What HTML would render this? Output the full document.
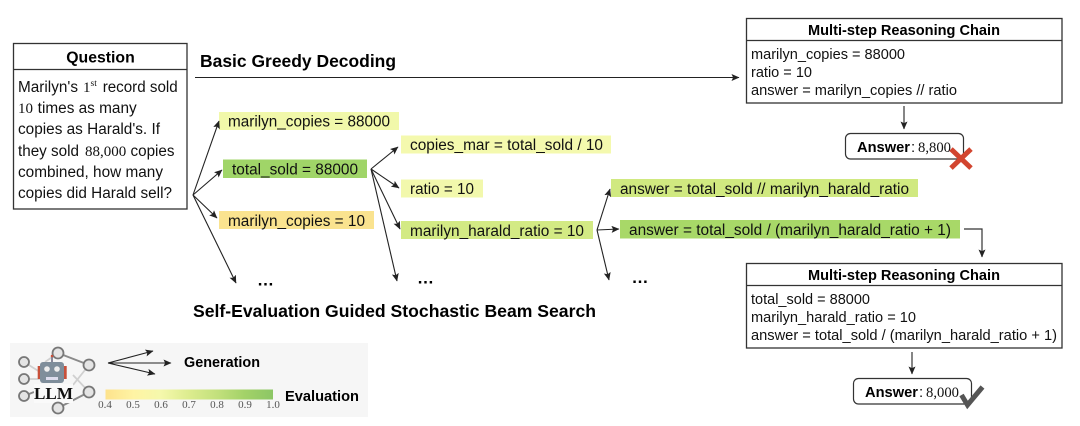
<!DOCTYPE html>
<html><head><meta charset="utf-8"><style>
html,body{margin:0;padding:0;background:#fff}
svg{display:block;filter:blur(.3px)}
text{font-family:"Liberation Sans",sans-serif;fill:#111}
.s{font-family:"Liberation Serif",serif}
.b{font-weight:bold;fill:#000}
.n{font-size:15.3px}
.c{font-size:14.5px}
.l{stroke:#222;stroke-width:1.1;fill:none;marker-end:url(#a)}
.box{fill:#fff;stroke:#333;stroke-width:1.3}
.t{font-family:"Liberation Serif",serif;font-size:11px;fill:#555;text-anchor:middle}
.nd{fill:#e4e4e4;stroke:#777;stroke-width:1.8}
</style></head><body>
<svg width="1080" height="426" viewBox="0 0 1080 426" xmlns="http://www.w3.org/2000/svg">
<defs><marker id="a" markerUnits="userSpaceOnUse" markerWidth="9" markerHeight="8" refX="7.5" refY="3.5" orient="auto"><path d="M0 0L8 3.5L0 7L1.6 3.5Z" fill="#222"/></marker></defs>
<rect width="1080" height="426" fill="#fff"/>

<!-- Question -->
<rect class="box" x="13.5" y="43.5" width="173.5" height="165.5"/>
<line x1="13.5" y1="69.5" x2="187" y2="69.5" stroke="#333" stroke-width="1.2"/>
<text class="b" x="100.500" y="62.500" text-anchor="middle" font-size="15.800px">Question</text>
<text class="n" x="18" y="92" lengthAdjust="spacingAndGlyphs" textLength="60">Marilyn's</text>
<text class="s" x="83" y="92" font-size="15px">1</text><text class="s" x="90.5" y="86" font-size="9.5px">st</text>
<text class="n" x="102.700" y="92" lengthAdjust="spacingAndGlyphs" textLength="75">record sold</text>
<text class="s" x="18" y="113" font-size="15px">10</text>
<text class="n" x="37.700" y="113" lengthAdjust="spacingAndGlyphs" textLength="99">times as many</text>
<text class="n" x="18" y="134" lengthAdjust="spacingAndGlyphs" textLength="142">copies as Harald's. If</text>
<text class="n" x="18" y="156" lengthAdjust="spacingAndGlyphs" textLength="61">they sold</text>
<text class="s" x="85" y="156" font-size="15px">88,000</text>
<text class="n" x="130.500" y="156" lengthAdjust="spacingAndGlyphs" textLength="44">copies</text>
<text class="n" x="18" y="177" lengthAdjust="spacingAndGlyphs" textLength="145">combined, how many</text>
<text class="n" x="18" y="198" lengthAdjust="spacingAndGlyphs" textLength="154">copies did Harald sell?</text>

<!-- Greedy -->
<text class="b" x="200" y="67" font-size="17.400px" lengthAdjust="spacingAndGlyphs" textLength="196">Basic Greedy Decoding</text>
<line class="l" x1="195" y1="77.500" x2="739" y2="77.500"/>

<!-- Tree nodes -->
<rect x="219" y="112" width="180" height="18" fill="#f1f8aa"/>
<text class="n" x="228" y="126.500" lengthAdjust="spacingAndGlyphs" textLength="162">marilyn_copies = 88000</text>
<rect x="223" y="159.500" width="144" height="18.500" fill="#a0d568"/>
<text class="n" x="232" y="174.500" lengthAdjust="spacingAndGlyphs" textLength="126">total_sold = 88000</text>
<rect x="219" y="211" width="155" height="18" fill="#fae38f"/>
<text class="n" x="228" y="226" lengthAdjust="spacingAndGlyphs" textLength="137">marilyn_copies = 10</text>
<rect x="401" y="135.500" width="210" height="18" fill="#f4f9ae"/>
<text class="n" x="410" y="150" lengthAdjust="spacingAndGlyphs" textLength="193">copies_mar = total_sold / 10</text>
<rect x="401" y="179.500" width="82" height="18" fill="#f2f8ac"/>
<text class="n" x="410" y="194" lengthAdjust="spacingAndGlyphs" textLength="64">ratio = 10</text>
<rect x="401" y="221" width="192" height="18" fill="#d3ea84"/>
<text class="n" x="410" y="236" lengthAdjust="spacingAndGlyphs" textLength="174">marilyn_harald_ratio = 10</text>
<rect x="611" y="179" width="307" height="18" fill="#d0e980"/>
<text class="n" x="620" y="194" lengthAdjust="spacingAndGlyphs" textLength="289">answer = total_sold // marilyn_harald_ratio</text>
<rect x="620" y="220" width="340" height="18.500" fill="#a8d868"/>
<text class="n" x="629" y="235" lengthAdjust="spacingAndGlyphs" textLength="322">answer = total_sold / (marilyn_harald_ratio + 1)</text>

<!-- Tree arrows -->
<line class="l" x1="193" y1="195" x2="219" y2="121"/>
<line class="l" x1="193" y1="195" x2="222" y2="170"/>
<line class="l" x1="193" y1="195" x2="217" y2="218"/>
<line class="l" x1="193" y1="195" x2="236" y2="283"/>
<line class="l" x1="371" y1="169" x2="398" y2="147"/>
<line class="l" x1="371" y1="169" x2="399" y2="188"/>
<line class="l" x1="371" y1="169" x2="400" y2="229"/>
<line class="l" x1="371" y1="169" x2="397" y2="281"/>
<line class="l" x1="597" y1="230" x2="610" y2="189"/>
<line class="l" x1="597" y1="230" x2="619" y2="229"/>
<line class="l" x1="597" y1="230" x2="609" y2="280"/>
<text class="b" x="257" y="285.500" font-size="17px">…</text>
<text class="b" x="417" y="283.500" font-size="17px">…</text>
<text class="b" x="631.500" y="283" font-size="17px">…</text>
<text class="b" x="193" y="317" font-size="17.300px" lengthAdjust="spacingAndGlyphs" textLength="403">Self-Evaluation Guided Stochastic Beam Search</text>

<!-- Top chain -->
<rect class="box" x="746.500" y="18.500" width="315.500" height="84.500"/>
<line x1="746.500" y1="40.500" x2="1062" y2="40.500" stroke="#333" stroke-width="1.2"/>
<text class="b" x="808" y="35" font-size="14.600px" lengthAdjust="spacingAndGlyphs" textLength="192">Multi-step Reasoning Chain</text>
<text class="c" x="751" y="59" lengthAdjust="spacingAndGlyphs" textLength="154">marilyn_copies = 88000</text>
<text class="c" x="751" y="77" lengthAdjust="spacingAndGlyphs" textLength="61">ratio = 10</text>
<text class="c" x="751" y="95" lengthAdjust="spacingAndGlyphs" textLength="206">answer = marilyn_copies // ratio</text>
<line class="l" x1="904" y1="106" x2="904" y2="129"/>
<rect x="845.500" y="133.500" width="118" height="25.500" rx="5" fill="#fff" stroke="#333" stroke-width="1.2"/>
<text class="b" x="857" y="152" font-size="14.700px" lengthAdjust="spacingAndGlyphs" textLength="53">Answer</text>
<text x="911" y="152" font-size="15px">:</text>
<text class="s" x="918" y="152" font-size="14.700px" lengthAdjust="spacingAndGlyphs" textLength="33">8,800</text>
<path d="M951 149L971 168M971 149L951 168" stroke="#d2452f" stroke-width="5" fill="none"/>

<!-- Elbow -->
<path d="M964 229H982V257" fill="none" stroke="#333" stroke-width="1.200" marker-end="url(#a)"/>

<!-- Bottom chain -->
<rect class="box" x="746.500" y="263.500" width="315.500" height="84.500"/>
<line x1="746.500" y1="285.500" x2="1062" y2="285.500" stroke="#333" stroke-width="1.2"/>
<text class="b" x="808" y="280" font-size="14.600px" lengthAdjust="spacingAndGlyphs" textLength="192">Multi-step Reasoning Chain</text>
<text class="c" x="751" y="304" lengthAdjust="spacingAndGlyphs" textLength="119">total_sold = 88000</text>
<text class="c" x="751" y="322" lengthAdjust="spacingAndGlyphs" textLength="165">marilyn_harald_ratio = 10</text>
<text class="c" x="751" y="340" lengthAdjust="spacingAndGlyphs" textLength="306">answer = total_sold / (marilyn_harald_ratio + 1)</text>
<line class="l" x1="912" y1="352" x2="912" y2="374"/>
<rect x="853.500" y="378.500" width="118" height="25.500" rx="5" fill="#fff" stroke="#333" stroke-width="1.2"/>
<text class="b" x="865" y="397" font-size="14.700px" lengthAdjust="spacingAndGlyphs" textLength="53">Answer</text>
<text x="919" y="397" font-size="15px">:</text>
<text class="s" x="926" y="397" font-size="14.700px" lengthAdjust="spacingAndGlyphs" textLength="33">8,000</text>
<path d="M961.500 395L967.500 405L982.500 387" stroke="#555" stroke-width="5" fill="none"/>

<!-- Legend -->
<rect x="10" y="343" width="358" height="74" fill="#f6f6f6"/>
<g fill="none">
<path d="M58 353L89 365M58 408L89 392M24 396L34 392" stroke="#8a8a8a" stroke-width="2"/>
<path d="M89 365L73 385M89 392L73 375M24 362L40 372M24 379L40 379M58 353L45 362" stroke="#d0d0d0" stroke-width="1.800"/>
</g>
<rect x="34" y="384" width="39" height="19" fill="#fafafa"/>
<circle class="nd" cx="24" cy="362" r="5"/><circle class="nd" cx="24" cy="379" r="5"/><circle class="nd" cx="24" cy="396" r="5"/>
<circle class="nd" cx="58" cy="353" r="5.500"/><circle class="nd" cx="89" cy="365" r="5.500"/><circle class="nd" cx="89" cy="392" r="5.500"/><circle class="nd" cx="58" cy="408" r="5.500"/>
<rect x="37.700" y="366" width="29" height="13" fill="#c8503a"/>
<rect x="40" y="362" width="24" height="21" rx="3" fill="#7f8e9b"/>
<circle cx="47" cy="369" r="2.800" fill="#eee"/><circle cx="57" cy="369" r="2.800" fill="#eee"/>
<rect x="46" y="377" width="12" height="3" fill="#dde"/>
<rect x="51" y="355" width="2" height="7" fill="#889"/><circle cx="52" cy="356" r="1.300" fill="#c8503a"/>
<text class="s" x="34" y="399" font-size="17px" font-weight="bold" lengthAdjust="spacingAndGlyphs" textLength="39">LLM</text>
<line class="l" x1="108" y1="363" x2="153" y2="351"/>
<line class="l" x1="108" y1="363" x2="171" y2="363"/>
<line class="l" x1="108" y1="363" x2="155" y2="374"/>
<text class="b" x="184" y="367" font-size="14.400px" lengthAdjust="spacingAndGlyphs" textLength="76">Generation</text>
<defs><linearGradient id="g"><stop offset="0" stop-color="#fde28c"/><stop offset=".17" stop-color="#fff4a4"/><stop offset=".33" stop-color="#f5f8ac"/><stop offset=".5" stop-color="#dcec8e"/><stop offset=".67" stop-color="#c2e07c"/><stop offset=".83" stop-color="#a3d268"/><stop offset="1" stop-color="#8cc665"/></linearGradient></defs>
<rect x="105.500" y="389.500" width="167.500" height="10" fill="url(#g)"/>
<text class="t" x="105" y="408">0.4</text><text class="t" x="133" y="408">0.5</text><text class="t" x="161" y="408">0.6</text><text class="t" x="189" y="408">0.7</text><text class="t" x="217" y="408">0.8</text><text class="t" x="245" y="408">0.9</text><text class="t" x="273" y="408">1.0</text>
<text class="b" x="285" y="401" font-size="14.600px" lengthAdjust="spacingAndGlyphs" textLength="74">Evaluation</text>
</svg>
</body></html>
